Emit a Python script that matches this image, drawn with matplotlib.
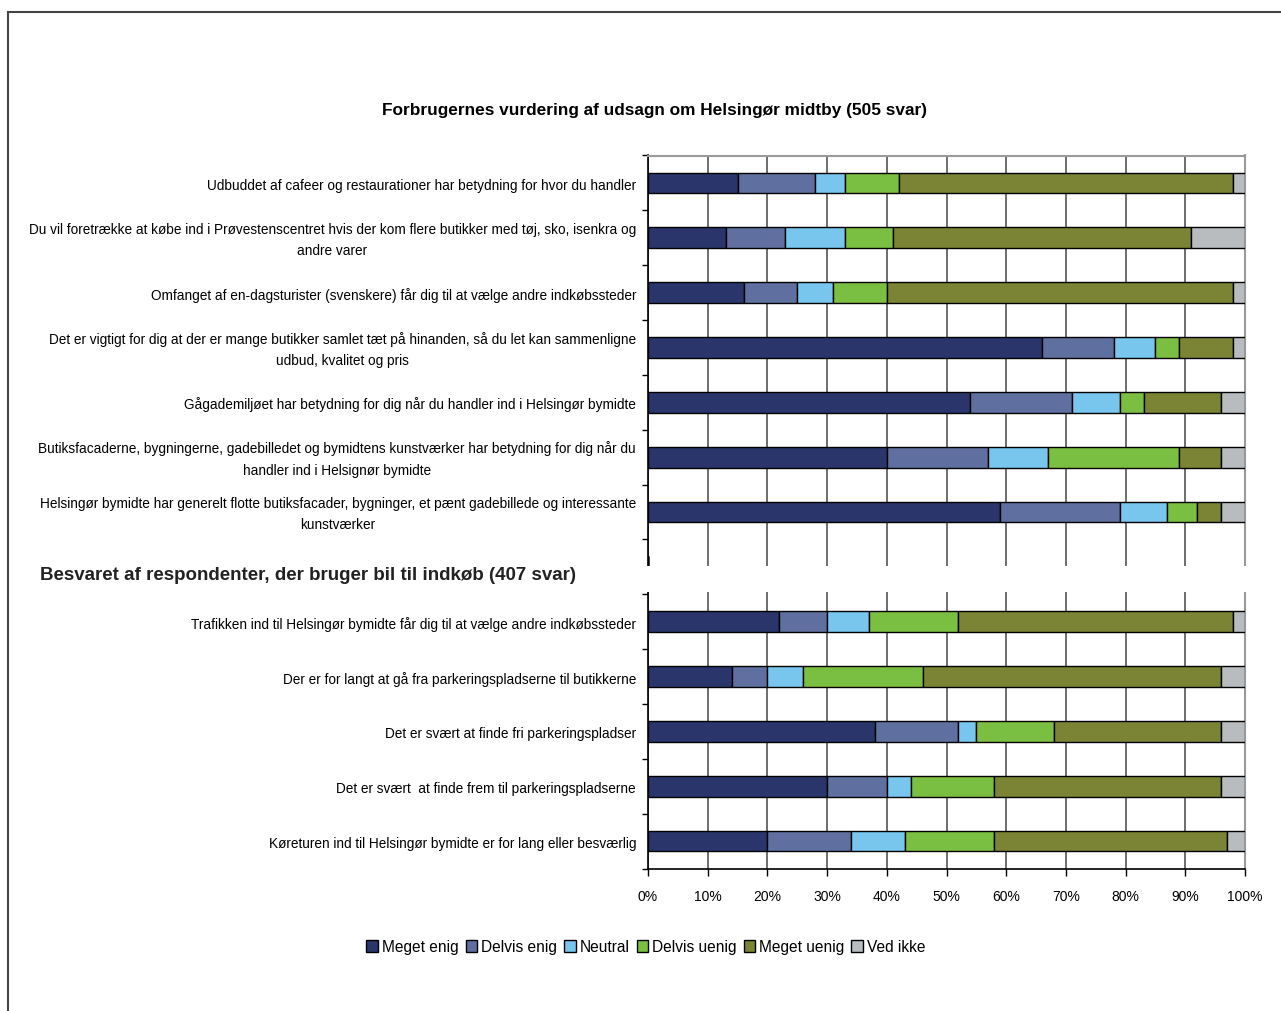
import matplotlib
matplotlib.use('Agg')
import matplotlib.pyplot as plt
import matplotlib.patches as patches
from matplotlib.ticker import FixedLocator, FuncFormatter

# --- DATA (percent of answers per statement) ---
statements = [
    'Udbuddet af cafeer og restaurationer har betydning for hvor du handler',
    'Du vil foretrække at købe ind i Prøvestenscentret hvis der kom flere butikker med tøj, sko, isenkra og\nandre varer',
    'Omfanget af en-dagsturister (svenskere) får dig til at vælge andre indkøbssteder',
    'Det er vigtigt for dig at der er mange butikker samlet tæt på hinanden, så du let kan sammenligne\nudbud, kvalitet og pris',
    'Gågademiljøet har betydning for dig når du handler ind i Helsingør bymidte',
    'Butiksfacaderne, bygningerne, gadebilledet og bymidtens kunstværker har betydning for dig når du\nhandler ind i Helsignør bymidte',
    'Helsingør bymidte har generelt flotte butiksfacader, bygninger, et pænt gadebillede og interessante\nkunstværker',
    '',
    'Trafikken ind til Helsingør bymidte får dig til at vælge andre indkøbssteder',
    'Der er for langt at gå fra parkeringspladserne til butikkerne',
    'Det er svært at finde fri parkeringspladser',
    'Det er svært  at finde frem til parkeringspladserne',
    'Køreturen ind til Helsingør bymidte er for lang eller besværlig',
]
answers = ['Meget enig', 'Delvis enig', 'Neutral', 'Delvis uenig', 'Meget uenig', 'Ved ikke']

meget_enig  = [15, 13, 16, 66, 54, 40, 59, 0, 22, 14, 38, 30, 20]
delvis_enig = [13, 10,  9, 12, 17, 17, 20, 0,  8,  6, 14, 10, 14]
neutral     = [ 5, 10,  6,  7,  8, 10,  8, 0,  7,  6,  3,  4,  9]
delvis_uenig = [9,  8,  9,  4,  4, 22,  5, 0, 15, 20, 13, 14, 15]
meget_uenig = [56, 50, 58,  9, 13,  7,  4, 0, 46, 50, 28, 38, 39]
ved_ikke    = [ 2,  9,  2,  2,  4,  4,  4, 0,  2,  4,  4,  4,  3]

colors = ['#2A366B', '#5F6FA0', '#78C5EE', '#7ABF42', '#7A8434', '#B8BCBF']

title = 'Forbrugernes vurdering af udsagn om Helsingør midtby (505 svar)'
subtitle = 'Besvaret af respondenter, der bruger bil til indkøb (407 svar)'

FONT = 'Liberation Sans'

W, H = 1281, 1012
fig = plt.figure(figsize=(W / 100, H / 100), dpi=100)

# outer frame
fig.add_artist(patches.Rectangle((8 / W, -0.01), 1.1, 1 - 13 / H + 0.01, transform=fig.transFigure,
                                 fill=False, edgecolor='#444444', linewidth=1.5))

ax = fig.add_axes([648 / W, 1 - 869.5 / H, (1245 - 648) / W, (869.5 - 156.5) / H])

series = [meget_enig, delvis_enig, neutral, delvis_uenig, meget_uenig, ved_ikke]
ypos = list(range(len(statements)))
left = [0] * len(statements)
for name, vals, col in zip(answers, series, colors):
    ax.barh(ypos, vals, left=left, height=0.38, color=col, edgecolor='black',
            linewidth=1.0, label=name, zorder=3)
    left = [a + b for a, b in zip(left, vals)]

ax.set_xlim(0, 100)
ax.set_ylim(len(statements) - 0.5, -0.5)

ax.xaxis.set_major_locator(FixedLocator(range(0, 101, 10)))
ax.xaxis.set_major_formatter(FuncFormatter(lambda v, p: f'{v:.0f}%'))
ax.tick_params(axis='x', direction='out', length=5, width=1, pad=10, labelsize=10)
for lbl in ax.get_xticklabels():
    lbl.set_family(FONT)
ax.grid(axis='x', color='#555555', linewidth=1.2, zorder=0)

ax.set_yticks([y - 0.5 for y in range(len(statements) + 1)])
ax.set_yticklabels([])
ax.tick_params(axis='y', direction='out', length=4, width=1)

for sp in ['top', 'right']:
    ax.spines[sp].set_color('#999999')
    ax.spines[sp].set_linewidth(1.5)
ax.spines['left'].set_linewidth(1.2)
ax.spines['bottom'].set_linewidth(1.2)

for y, txt in zip(ypos, statements):
    if txt:
        ax.text(-2.0, y + 0.03, txt, ha='right', va='center', multialignment='center',
                fontsize=9.8, family=FONT, linespacing=1.7)

# blank band between the two groups, with the second heading
fig.add_artist(patches.Rectangle((600 / W, 1 - 593 / H), 700 / W, 26 / H, transform=fig.transFigure,
                                 facecolor='white', edgecolor='none', zorder=5))
fig.text(40 / W, 1 - 575 / H, subtitle, fontsize=13.5, fontweight='bold', family=FONT,
         ha='left', va='center', color='#222222', zorder=6)

fig.text(655 / W, 1 - 111 / H, title, fontsize=12.4, fontweight='bold', family=FONT,
         ha='center', va='center')

fig.legend(loc='center', bbox_to_anchor=(646 / W, 1 - 948 / H), ncol=6, frameon=False,
           handlelength=0.75, handleheight=0.75, handletextpad=0.25, columnspacing=0.45,
           prop={'family': FONT, 'size': 11.2})

fig.savefig('out.png', dpi=100)
